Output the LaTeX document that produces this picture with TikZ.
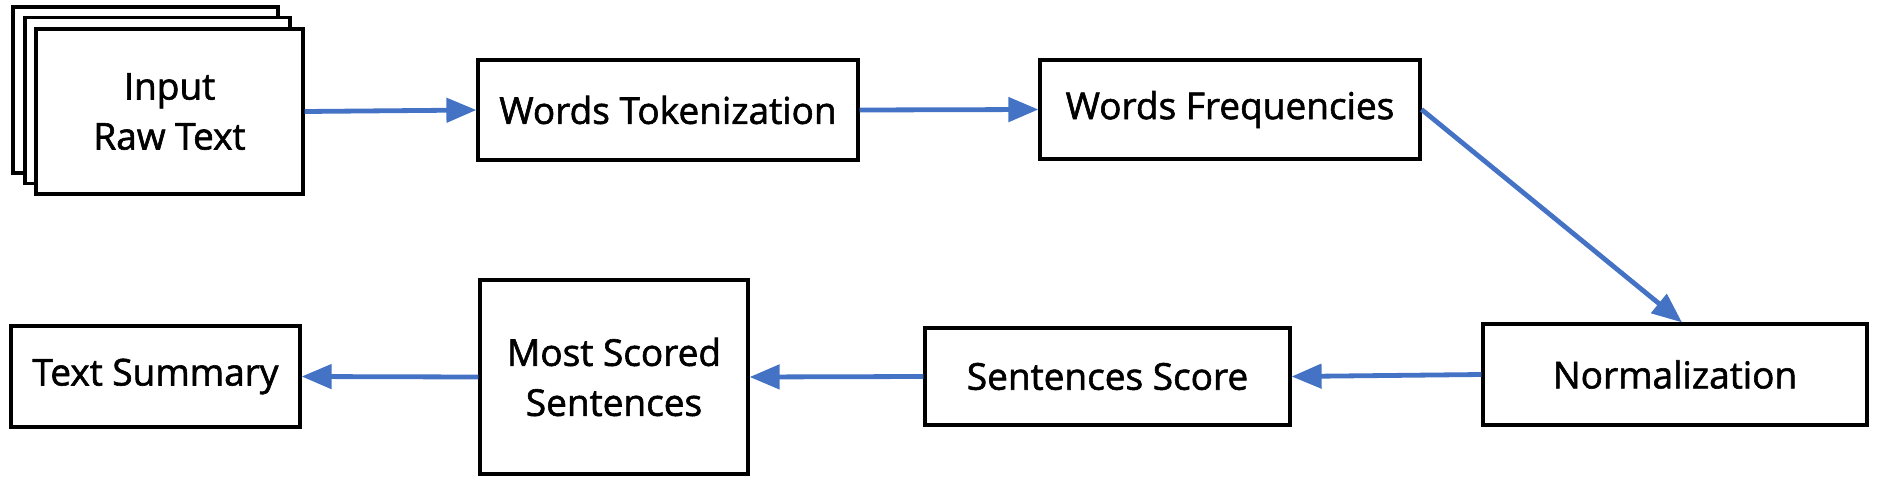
\documentclass[tikz,border=0pt]{standalone}
\usepackage{fontspec}
\setmainfont{Open Sans}
\newfontfamily\boxfont{Open Sans}[FakeBold=1.6]
\usetikzlibrary{arrows.meta}
\definecolor{flowblue}{RGB}{68,114,196}
\tikzset{
  stepbox/.style={draw=black, line width=1.6pt, fill=white, align=center, font=\boxfont\fontsize{18.5}{25}\selectfont, inner sep=0pt},
  flow/.style={draw=flowblue, line width=2.4pt, -{Triangle[length=15pt,width=12pt]}}
}
\begin{document}
\begin{tikzpicture}[x=0.5pt,y=-0.5pt]
\useasboundingbox (0,0) rectangle (1877,482);
% stacked input pages
\node (page1) at (145.5,90) [stepbox, minimum width=132.5pt, minimum height=83pt] {};
\node (page2) at (157.5,100.5) [stepbox, minimum width=132.5pt, minimum height=83pt] {};
\node (input) at (169.5,111.5) [stepbox, minimum width=133.5pt, minimum height=82.5pt] {Input\\Raw Text};
% top row
\node (tok) at (668,110) [stepbox, minimum width=190pt, minimum height=50pt] {Words Tokenization};
\node (freq) at (1230,109.5) [stepbox, minimum width=190pt, minimum height=49.5pt] {Words Frequencies};
% bottom row
\node (norm) at (1675,374.5) [stepbox, minimum width=192pt, minimum height=50.5pt] {Normalization};
\node (score) at (1107.5,376.5) [stepbox, minimum width=182.5pt, minimum height=48.5pt] {Sentences Score};
\node (most) at (614,377) [stepbox, minimum width=134pt, minimum height=97pt] {Most Scored\\Sentences};
\node (summ) at (155.5,376.5) [stepbox, minimum width=144.5pt, minimum height=50.5pt] {Text Summary};
% arrows
\draw [flow] (input.east) -- (tok.west);
\draw [flow] (tok.east) -- (freq.west);
\draw [flow] (freq.east) -- ([xshift=3.5pt]norm.north);
\draw [flow] (norm.west) -- (score.east);
\draw [flow] (score.west) -- (most.east);
\draw [flow] (most.west) -- (summ.east);
\end{tikzpicture}
\end{document}
